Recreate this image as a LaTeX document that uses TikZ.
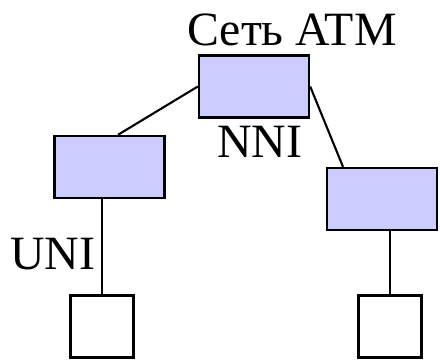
\documentclass[tikz,border=0pt]{standalone}
\usepackage{fontspec}
\setmainfont{Liberation Serif}
\usepackage{tikz}

\tikzset{
  switchbox/.style={draw,fill=blue!20!white,line width=3.4pt,minimum width=5.5cm,minimum height=3.1cm,inner sep=0pt},
  termbox/.style={draw,fill=white,line width=3.4pt,minimum width=3.15cm,minimum height=3.1cm,inner sep=0pt},
  lbl/.style={font=\fontsize{68}{80}\selectfont,inner sep=0pt,anchor=base}
}

\begin{document}
\begin{tikzpicture}
    \useasboundingbox (0,0) rectangle (22,-17.95);
    \node[switchbox] (atm) at (12.7,-4.325) {};
    \node[switchbox] (lsw) at (5.475,-8.35) {};
    \node[switchbox] (rsw) at (19.1,-9.95) {};
    \node[termbox] (lterm) at (5.1,-16.325) {};
    \node[termbox] (rterm) at (19.5,-16.325) {};
    \draw[line width=3pt] (atm.west) -- ([xshift=0.425cm]lsw.north);
    \draw[line width=3pt] (atm.east) -- ([xshift=-1.95cm]rsw.north);
    \draw[line width=3pt] (lsw.south -| lterm.north) -- (lterm.north);
    \draw[line width=3pt] (rsw.south -| rterm.north) -- (rterm.north);
    \node[lbl] (net) at (14.6,-2.25) {Сеть ATM};
    \node[lbl] (nni) at (12.975,-7.85) {NNI};
    \node[lbl] (uni) at (2.625,-13.45) {UNI};
  \end{tikzpicture}
\end{document}
